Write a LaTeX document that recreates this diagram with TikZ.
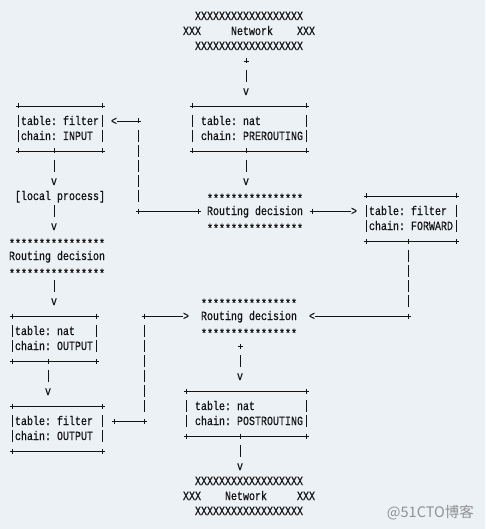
\documentclass[tikz,border=0pt]{standalone}
\usepackage{fontspec}
\newfontfamily\asciifont[FakeStretch=0.8,FakeBold=0.5]{Liberation Mono}
\newfontfamily\wmfont{Noto Sans CJK SC}
\definecolor{bgc}{RGB}{236,241,246}
\definecolor{ink}{RGB}{20,20,20}
\definecolor{wmc}{RGB}{145,145,145}
\tikzset{
  txt/.style={anchor=base west, inner sep=0pt, outer sep=0pt, text=ink,
    font=\asciifont\fontsize{12.5}{12.5}\selectfont},
  ast/.style={txt, yshift=-2.6pt},
  ln/.style={draw=ink, line width=0.8pt},
  wm/.style={anchor=east, inner sep=0pt, text=wmc, font=\wmfont\fontsize{14.5}{14.5}\selectfont}
}
% text at column, row
\newcommand\aT[4]{\node[txt] (#1) at ({9+6*#2},{20+15*#3}) {#4};}
\newcommand\aS[3]{\node[ast] (#1) at ({9+6*#2},{20+15*#3}) {****************};}
\newcommand\aSp{\hspace{6pt}}
% plus sign at column,row
\newcommand\aP[2]{\draw[ln] ({12+6*#1-2.5},{16+15*#2}) -- ++(5,0) ({12+6*#1},{16+15*#2-2.5}) -- ++(0,5);}
% one pipe at column,row
\newcommand\aV[2]{\draw[ln] ({12+6*#1},{16+15*#2-6}) -- ++(0,12);}
% pipes at column from row to row
\newcommand\aVR[3]{\foreach \rr in {#2,...,#3} {\aV{#1}{\rr}}}
% horizontal line between column centres at row
\newcommand\aH[3]{\draw[ln] ({12+6*#1},{16+15*#3}) -- ({12+6*#2},{16+15*#3});}
\begin{document}
\begin{tikzpicture}[x=1pt,y=-1pt]
\fill[bgc] (0,0) rectangle (485,529);
\useasboundingbox (0,0) rectangle (485,529);

% ---- Network (top)
\aT{ntA}{31}{0}{XXXXXXXXXXXXXXXXXX}
\aT{ntB}{29}{1}{XXX}
\aT{ntN}{37}{1}{Network}
\aT{ntC}{48}{1}{XXX}
\aT{ntD}{31}{2}{XXXXXXXXXXXXXXXXXX}
\aP{39}{3}
\aV{39}{4}
\aT{v1}{39}{5}{v}

% ---- table nat / PREROUTING
\aH{30}{49}{6} \aP{30}{6} \aP{49}{6}
\aVR{30}{7}{8} \aVR{49}{7}{8}
\aT{preT}{32}{7}{table:\aSp nat}
\aT{preC}{32}{8}{chain:\aSp PREROUTING}
\aH{30}{49}{9} \aP{30}{9} \aP{39}{9} \aP{49}{9}
\aV{39}{10}
\aT{v2}{39}{11}{v}

% ---- routing decision 1
\aS{rd1a}{33}{12}
\aT{rd1}{33}{13}{Routing\aSp decision}
\aS{rd1b}{33}{14}

% ---- table filter / INPUT
\aH{1}{15}{6} \aP{1}{6} \aP{15}{6}
\aVR{1}{7}{8} \aVR{15}{7}{8}
\aT{inT}{2}{7}{table:\aSp filter}
\aT{inC}{2}{8}{chain:\aSp INPUT}
\aH{1}{15}{9} \aP{1}{9} \aP{7}{9} \aP{15}{9}

% connector routing decision 1 -> INPUT
\aT{lt1}{17}{7}{<}
\draw[ln] (117,121) -- (138,121);
\aP{21}{7}
\aVR{21}{8}{12}
\aP{21}{13}
\aH{21}{31}{13}
\aP{31}{13}

% local process
\aV{7}{10}
\aT{v3}{7}{11}{v}
\aT{lp}{1}{12}{[local\aSp process]}
\aV{7}{13}
\aT{v4}{7}{14}{v}

% ---- routing decision 2 (left)
\aS{rd2a}{0}{15}
\aT{rd2}{0}{16}{Routing\aSp decision}
\aS{rd2b}{0}{17}
\aV{7}{18}
\aT{v5}{7}{19}{v}

% ---- routing decision 1 -> FORWARD
\aP{50}{13}
\draw[ln] (312,211) -- (351,211);
\aT{gt1}{57}{13}{>}

% ---- table filter / FORWARD
\aH{59}{74}{12} \aP{59}{12} \aP{74}{12}
\aVR{59}{13}{14} \aVR{74}{13}{14}
\aT{fwT}{60}{13}{table:\aSp filter}
\aT{fwC}{60}{14}{chain:\aSp FORWARD}
\aH{59}{74}{15} \aP{59}{15} \aP{66}{15} \aP{74}{15}
\aVR{66}{16}{19}
\aP{66}{20}
\draw[ln] (315,316) -- (408,316);
\aT{lt2}{50}{20}{<}

% ---- routing decision 3 (centre)
\aS{rd3a}{32}{19}
\aT{rd3}{32}{20}{Routing\aSp decision}
\aS{rd3b}{32}{21}
\aP{38}{22}
\aV{38}{23}
\aT{v6}{38}{24}{v}

% ---- table nat / OUTPUT
\aH{0}{14}{20} \aP{0}{20} \aP{14}{20}
\aVR{0}{21}{22} \aVR{14}{21}{22}
\aT{onT}{1}{21}{table:\aSp nat}
\aT{onC}{1}{22}{chain:\aSp OUTPUT}
\aH{0}{14}{23} \aP{0}{23} \aP{6}{23} \aP{14}{23}
\aV{6}{24}
\aT{v7}{6}{25}{v}

% ---- table filter / OUTPUT
\aH{0}{15}{26} \aP{0}{26} \aP{15}{26}
\aVR{0}{27}{28} \aVR{15}{27}{28}
\aT{ofT}{1}{27}{table:\aSp filter}
\aT{ofC}{1}{28}{chain:\aSp OUTPUT}
\aH{0}{15}{29} \aP{0}{29} \aP{15}{29}

% connector filter OUTPUT -> routing decision 3
\aP{17}{27}
\aH{17}{22}{27}
\aP{22}{27}
\aVR{22}{21}{26}
\aP{22}{20}
\draw[ln] (144,316) -- (183,316);
\aT{gt2}{29}{20}{>}

% ---- table nat / POSTROUTING
\aH{29}{49}{25} \aP{29}{25} \aP{49}{25}
\aVR{29}{26}{27} \aVR{49}{26}{27}
\aT{poT}{31}{26}{table:\aSp nat}
\aT{poC}{31}{27}{chain:\aSp POSTROUTING}
\aH{29}{49}{28} \aP{29}{28} \aP{38}{28} \aP{49}{28}
\aV{38}{29}
\aT{v8}{38}{30}{v}

% ---- Network (bottom)
\aT{nbA}{31}{31}{XXXXXXXXXXXXXXXXXX}
\aT{nbB}{29}{32}{XXX}
\aT{nbN}{36}{32}{Network}
\aT{nbC}{48}{32}{XXX}
\aT{nbD}{31}{33}{XXXXXXXXXXXXXXXXXX}

% watermark
\node[wm] (wmark) at (474,513) {@51CTO博客};
\end{tikzpicture}
\end{document}
